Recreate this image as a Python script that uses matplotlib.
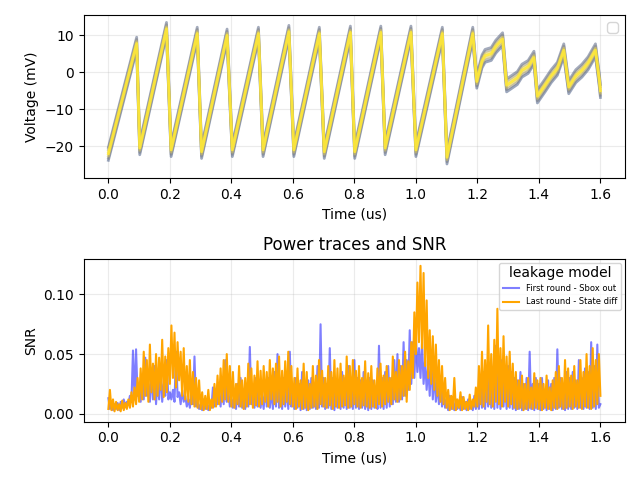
import numpy as np
import matplotlib
matplotlib.use("Agg")
import matplotlib.pyplot as plt

# ---- Power trace (key points of the mean trace) ----
trace_time = [0.000, 0.092, 0.102, 0.189, 0.204, 0.289, 0.303, 0.386, 0.403, 0.488,
              0.503, 0.587, 0.603, 0.686, 0.702, 0.787, 0.801, 0.886, 0.900, 0.984,
              1.000, 1.086, 1.101, 1.185, 1.198, 1.215, 1.225, 1.245, 1.260, 1.282,
              1.295, 1.330, 1.345, 1.365, 1.384, 1.395, 1.420, 1.440, 1.460, 1.481,
              1.497, 1.520, 1.540, 1.560, 1.584, 1.597, 1.600]
trace_mv = [-22.0, 7.8, -20.5, 11.8, -21.0, 10.5, -21.5, 10.0, -21.0, 10.5,
            -21.0, 11.0, -21.0, 10.5, -21.5, 10.8, -21.5, 10.8, -20.5, 10.8,
            -21.0, 10.5, -23.0, 10.5, -2.5, 3.0, 4.5, 5.0, 7.0, 9.0,
            -3.5, -1.5, 0.5, 1.5, 4.0, -6.5, -3.5, -1.0, 1.0, 6.0,
            -4.0, -1.0, 0.5, 2.5, 6.0, -2.5, -5.0]
# spread of the individual traces around the mean (mV)
trace_offsets = [-1.8, 1.7, -1.2, 1.1, -0.6, 0.5, 0.0]

# ---- SNR (sampled every 0.005 us from 0 to 1.6 us) ----
snr_sbox = [
    0.013, 0.004, 0.010, 0.003, 0.008, 0.004, 0.009, 0.003, 0.010, 0.005, 0.012, 0.006, 0.010, 0.008, 0.015, 0.010, 0.053, 0.012, 0.054, 0.015,
    0.020, 0.010, 0.030, 0.012, 0.047, 0.015, 0.025, 0.010, 0.035, 0.012, 0.040, 0.008, 0.030, 0.012, 0.038, 0.010, 0.025, 0.015, 0.045, 0.012,
    0.018, 0.012, 0.020, 0.010, 0.052, 0.014, 0.018, 0.008, 0.020, 0.010, 0.015, 0.006, 0.012, 0.005, 0.020, 0.008, 0.048, 0.006, 0.010, 0.004,
    0.008, 0.003, 0.012, 0.004, 0.008, 0.003, 0.010, 0.005, 0.022, 0.006, 0.020, 0.008, 0.015, 0.006, 0.030, 0.008, 0.045, 0.010, 0.020, 0.006,
    0.012, 0.005, 0.020, 0.004, 0.025, 0.006, 0.030, 0.005, 0.020, 0.004, 0.025, 0.006, 0.056, 0.008, 0.022, 0.005, 0.030, 0.006, 0.020, 0.005,
    0.015, 0.004, 0.025, 0.006, 0.030, 0.005, 0.020, 0.004, 0.035, 0.006, 0.050, 0.005, 0.020, 0.004, 0.030, 0.006, 0.025, 0.004, 0.052, 0.006,
    0.020, 0.004, 0.030, 0.005, 0.025, 0.003, 0.035, 0.004, 0.020, 0.003, 0.028, 0.004, 0.030, 0.005, 0.022, 0.004, 0.040, 0.005, 0.075, 0.006,
    0.030, 0.004, 0.025, 0.005, 0.055, 0.004, 0.030, 0.003, 0.028, 0.005, 0.022, 0.004, 0.035, 0.005, 0.030, 0.004, 0.040, 0.005, 0.025, 0.004,
    0.045, 0.005, 0.030, 0.004, 0.028, 0.005, 0.035, 0.004, 0.025, 0.003, 0.030, 0.004, 0.028, 0.005, 0.020, 0.004, 0.057, 0.005, 0.030, 0.004,
    0.035, 0.005, 0.040, 0.006, 0.030, 0.008, 0.045, 0.010, 0.050, 0.010, 0.040, 0.012, 0.060, 0.015, 0.045, 0.020, 0.070, 0.025, 0.060, 0.030,
    0.065, 0.035, 0.055, 0.030, 0.060, 0.025, 0.045, 0.020, 0.040, 0.015, 0.050, 0.012, 0.035, 0.010, 0.025, 0.008, 0.030, 0.006, 0.020, 0.005,
    0.012, 0.003, 0.015, 0.004, 0.010, 0.003, 0.012, 0.004, 0.008, 0.003, 0.014, 0.004, 0.010, 0.003, 0.012, 0.004, 0.010, 0.003, 0.015, 0.004,
    0.020, 0.004, 0.030, 0.005, 0.035, 0.004, 0.028, 0.006, 0.040, 0.005, 0.030, 0.004, 0.057, 0.005, 0.035, 0.004, 0.045, 0.006, 0.030, 0.004,
    0.040, 0.005, 0.035, 0.004, 0.030, 0.003, 0.028, 0.004, 0.035, 0.003, 0.025, 0.004, 0.030, 0.003, 0.052, 0.004, 0.025, 0.003, 0.030, 0.004,
    0.025, 0.003, 0.030, 0.004, 0.020, 0.003, 0.028, 0.004, 0.025, 0.003, 0.030, 0.004, 0.054, 0.005, 0.030, 0.004, 0.025, 0.003, 0.035, 0.004,
    0.030, 0.004, 0.035, 0.005, 0.028, 0.004, 0.045, 0.005, 0.030, 0.004, 0.038, 0.005, 0.035, 0.004, 0.060, 0.005, 0.040, 0.004, 0.058, 0.005,
    0.008,
]
snr_state = [
    0.004, 0.020, 0.003, 0.012, 0.002, 0.010, 0.003, 0.008, 0.002, 0.011, 0.003, 0.009, 0.004, 0.012, 0.005, 0.018, 0.006, 0.022, 0.008, 0.030,
    0.010, 0.038, 0.012, 0.052, 0.015, 0.045, 0.010, 0.058, 0.018, 0.042, 0.012, 0.050, 0.015, 0.047, 0.020, 0.062, 0.014, 0.048, 0.018, 0.055,
    0.025, 0.074, 0.030, 0.068, 0.022, 0.060, 0.028, 0.052, 0.015, 0.055, 0.012, 0.040, 0.010, 0.045, 0.008, 0.035, 0.006, 0.030, 0.005, 0.028,
    0.004, 0.018, 0.003, 0.015, 0.004, 0.020, 0.003, 0.012, 0.005, 0.025, 0.006, 0.032, 0.008, 0.038, 0.010, 0.045, 0.012, 0.050, 0.010, 0.040,
    0.006, 0.035, 0.005, 0.025, 0.008, 0.040, 0.006, 0.028, 0.004, 0.030, 0.006, 0.042, 0.008, 0.038, 0.005, 0.032, 0.007, 0.044, 0.006, 0.036,
    0.008, 0.040, 0.010, 0.035, 0.006, 0.045, 0.012, 0.038, 0.008, 0.042, 0.010, 0.048, 0.006, 0.036, 0.008, 0.044, 0.010, 0.052, 0.008, 0.040,
    0.006, 0.030, 0.004, 0.038, 0.006, 0.028, 0.004, 0.042, 0.005, 0.035, 0.003, 0.025, 0.005, 0.040, 0.006, 0.032, 0.004, 0.045, 0.008, 0.036,
    0.006, 0.030, 0.005, 0.040, 0.007, 0.035, 0.004, 0.045, 0.006, 0.038, 0.005, 0.042, 0.006, 0.032, 0.007, 0.048, 0.005, 0.040, 0.006, 0.045,
    0.008, 0.036, 0.006, 0.040, 0.005, 0.030, 0.007, 0.044, 0.006, 0.034, 0.005, 0.040, 0.006, 0.028, 0.005, 0.038, 0.008, 0.042, 0.006, 0.032,
    0.008, 0.040, 0.010, 0.030, 0.008, 0.048, 0.012, 0.035, 0.010, 0.045, 0.012, 0.040, 0.015, 0.052, 0.010, 0.044, 0.020, 0.060, 0.030, 0.085,
    0.050, 0.110, 0.060, 0.124, 0.055, 0.118, 0.040, 0.095, 0.030, 0.070, 0.025, 0.065, 0.020, 0.058, 0.015, 0.045, 0.010, 0.040, 0.008, 0.030,
    0.005, 0.020, 0.003, 0.015, 0.004, 0.030, 0.003, 0.012, 0.005, 0.018, 0.003, 0.014, 0.004, 0.010, 0.003, 0.016, 0.004, 0.012, 0.006, 0.022,
    0.006, 0.040, 0.008, 0.052, 0.006, 0.045, 0.010, 0.074, 0.008, 0.050, 0.006, 0.062, 0.010, 0.088, 0.008, 0.055, 0.006, 0.065, 0.010, 0.048,
    0.006, 0.052, 0.008, 0.042, 0.005, 0.035, 0.004, 0.028, 0.005, 0.032, 0.003, 0.025, 0.004, 0.030, 0.005, 0.022, 0.004, 0.034, 0.005, 0.028,
    0.004, 0.030, 0.003, 0.025, 0.005, 0.032, 0.004, 0.022, 0.003, 0.028, 0.005, 0.035, 0.004, 0.040, 0.006, 0.030, 0.004, 0.045, 0.005, 0.038,
    0.006, 0.032, 0.004, 0.040, 0.006, 0.028, 0.005, 0.045, 0.004, 0.035, 0.006, 0.050, 0.005, 0.040, 0.004, 0.055, 0.006, 0.045, 0.008, 0.050,
    0.015,
]
snr_labels = ["First round - Sbox out", "Last round - State diff"]

snr_time = np.linspace(0.0, 1.6, len(snr_state))

fig, (ax1, ax2) = plt.subplots(2, 1, figsize=(6.4, 4.8), dpi=100)

# top: power traces (dark blue-gray outer traces, yellow on top)
cmap = plt.get_cmap("cividis")
n = len(trace_offsets)
t_arr = np.array(trace_time)
v_arr = np.array(trace_mv)
fracs = [0.15, 0.2, 0.45, 0.5, 0.85, 0.9, 1.0]
alphas = [0.45, 0.45, 0.45, 0.45, 0.55, 0.55, 0.9]
for off, frac, a in zip(trace_offsets, fracs, alphas):
    ax1.plot(t_arr, v_arr + off, color=cmap(frac), alpha=a, linewidth=2.0)
ax1.set_xlabel("Time (us)")
ax1.set_ylabel("Voltage (mV)")
ax1.set_ylim(-28.6, 15.5)
ax1.grid(True, alpha=0.25)
ax1.legend(handles=[], loc="upper right")

# bottom: SNR
ax2.plot(snr_time, snr_sbox, color="blue", alpha=0.5, label=snr_labels[0])
ax2.plot(snr_time, snr_state, color="orange", label=snr_labels[1])
ax2.set_xlabel("Time (us)")
ax2.set_ylabel("SNR")
ax2.set_title("Power traces and SNR")
ax2.set_ylim(-0.0067, 0.130)
ax2.grid(True, alpha=0.25)
ax2.legend(title="leakage model", fontsize=6, title_fontsize=10, loc="upper right")

fig.tight_layout()
fig.savefig("out.png", dpi=100)
